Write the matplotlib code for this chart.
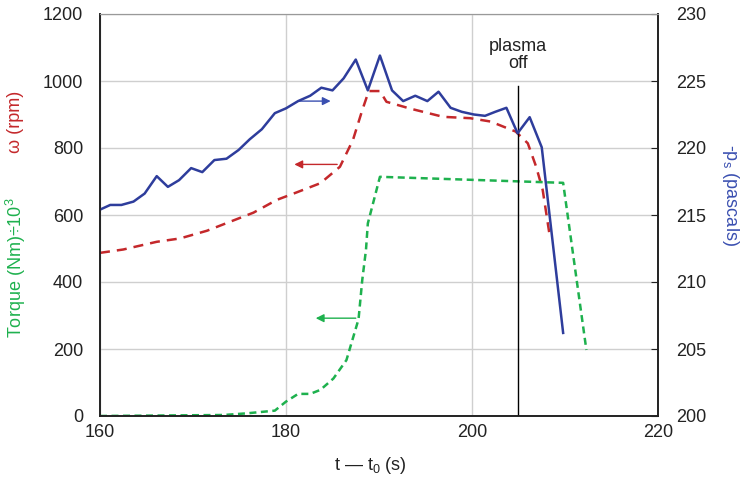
import numpy as np
import matplotlib.pyplot as plt
from matplotlib.patches import Rectangle

plt.rcParams['font.family'] = ['Liberation Sans', 'DejaVu Sans']
plt.rcParams['mathtext.fontset'] = 'custom'
plt.rcParams['mathtext.rm'] = 'Liberation Sans'
plt.rcParams['mathtext.it'] = 'Liberation Sans'

# pressure (right axis)
t_p = [160.0, 161.1, 162.3, 163.6, 164.8, 166.1, 167.3, 168.5, 169.8, 171.0,
       172.3, 173.6, 174.9, 176.1, 177.4, 178.8, 180.0, 181.3, 182.6, 183.8,
       185.0, 186.2, 187.5, 188.8, 190.1, 191.4, 192.6, 193.9, 195.2, 196.4,
       197.7, 198.9, 200.2, 201.4, 202.5, 203.7, 204.9, 206.2, 207.5, 209.8]
p_s = [215.4, 215.75, 215.75, 216.0, 216.6, 217.9, 217.1, 217.6, 218.5, 218.2,
       219.1, 219.2, 219.85, 220.65, 221.4, 222.6, 222.96, 223.5, 223.9, 224.5,
       224.3, 225.2, 226.6, 224.3, 226.9, 224.3, 223.5, 223.9, 223.5, 224.2,
       223.0, 222.7, 222.5, 222.4, 222.7, 223.0, 221.1, 222.3, 220.05, 206.2]

# rotation speed
t_w = [160.0, 162.5, 166.1, 168.6, 171.5, 174.0, 176.5, 179.0, 181.1, 183.7,
       185.8, 187.2, 188.2, 188.9, 190.1, 190.8, 193.3, 196.9, 199.8, 202.0,
       204.7, 206.0, 206.9, 207.6, 208.4]
omega = [487, 497, 520, 530, 553, 580, 607, 645, 667, 695,
         744, 824, 913, 970, 970, 938, 918, 893, 889, 879,
         849, 814, 744, 675, 530]

# torque
t_q = [160.0, 173.3, 175.8, 178.8, 180.0, 181.3, 182.6, 183.7, 185.1, 186.5,
       187.8, 188.2, 188.6, 188.8, 190.1, 209.8, 212.3]
torque = [0, 3, 8, 16, 43, 66, 66, 78, 112, 167,
          289, 406, 496, 575, 714, 696, 197]

c_blue = '#2E3D9C'
c_red = '#C4282B'
c_green = '#1EB14E'
fs = 13

fig = plt.figure(figsize=(7.45, 4.83), dpi=100)
ax = fig.add_axes([100/745, 67/483, 558/745, 402/483])
ax2 = ax.twinx()
ax2.set_position(ax.get_position())

ax.set_xlim(160, 220)
ax.set_ylim(0, 1200)
ax.set_xticks([160, 180, 200, 220])
ax.set_yticks(range(0, 1201, 200))
ax.grid(True, color='#CFCFCF', lw=1)
ax.tick_params(length=0, labelsize=fs, colors='#222222')
ax.tick_params(axis='y', pad=12)
ax.tick_params(axis='x', pad=6)

ax.plot(t_w, omega, color=c_red, lw=1.8, dashes=(4, 2.8))
ax.plot(t_q, torque, color=c_green, lw=1.8, dashes=(2.8, 1.8))

ax.axvline(204.9, ymin=0, ymax=985/1200, color='black', lw=1, zorder=5)
ax.add_patch(Rectangle((199.8, 1035), 8.5, 115, facecolor='white',
                       edgecolor='none', zorder=1.5))
ax.text(204.9, 1078, 'plasma\noff', ha='center', va='center',
        fontsize=fs, color='#222222', linespacing=1.0, zorder=6)

ax.annotate('', xy=(185.1, 940), xytext=(181.1, 940),
            arrowprops=dict(arrowstyle='-|>', color='#3A4FB0', lw=1,
                            mutation_scale=12), zorder=6)
ax.annotate('', xy=(180.6, 751), xytext=(185.8, 751),
            arrowprops=dict(arrowstyle='-|>', color=c_red, lw=1,
                            mutation_scale=12), zorder=6)
ax.annotate('', xy=(182.9, 292), xytext=(187.8, 292),
            arrowprops=dict(arrowstyle='-|>', color=c_green, lw=1,
                            mutation_scale=12), zorder=6)

ax2.set_ylim(200, 230)
ax2.set_yticks(range(200, 231, 5))
ax2.plot(t_p, p_s, color=c_blue, lw=1.8)
ax2.tick_params(axis='y', direction='in', length=5, labelsize=fs,
                pad=13, colors='#222222')

for a in (ax, ax2):
    a.spines['top'].set_color('#999999')
    for s in ('left', 'right', 'bottom'):
        a.spines[s].set_color('#222222')
        a.spines[s].set_linewidth(1.2)

fig.text(16/745, 1 - 122/483, '\u03c9 (rpm)', rotation=90, ha='center',
         va='center', color=c_red, fontsize=fs)
fig.text(16/745, 1 - 268/483, 'Torque (Nm)\u00f710$^3$', rotation=90,
         ha='center', va='center', color=c_green, fontsize=fs)
fig.text(731/745, 1 - 195/483, '-p$_s$ (pascals)', rotation=270,
         ha='center', va='center', color='#3A4FB0', fontsize=fs)
fig.text(370/745, 1 - 466/483, 't \u2014 t$_0$ (s)', ha='center',
         va='center', color='#222222', fontsize=fs)

fig.savefig('out.png', dpi=100)
